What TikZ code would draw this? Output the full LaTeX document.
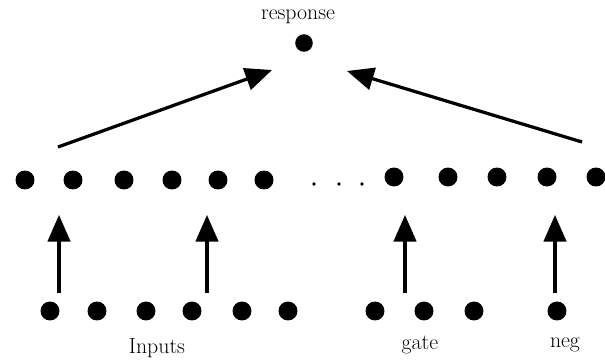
\documentclass[tikz,border=0pt]{standalone}
\usepackage{tikz}
\usetikzlibrary{arrows.meta}
\usetikzlibrary{positioning}

\begin{document}
\begin{tikzpicture}[x=0.025cm, y=-0.025cm]
\tikzset{UnitStyle/.style = {shape=circle, fill=black, inner sep=0pt, minimum size=13.5pt}}
\tikzset{DotStyle/.style = {shape=circle, fill=black, inner sep=0pt, minimum size=2.8pt}}
\tikzset{LabelStyle/.style = {font=\fontsize{15.5}{18}\selectfont}}
\tikzset{EdgeStyle/.style = {-{Triangle[width=16pt, length=19pt]}, line width=2.3pt}}
  \useasboundingbox (0,0) rectangle (605,363);
  % output unit
  \node[LabelStyle] (lr) at (298,17) {response};
  \node[UnitStyle, minimum size=12.5pt] (r) at (304,43) {};
  % hidden layer
  \node[UnitStyle] (h1) at (25,180) {};
  \node[UnitStyle] (h2) at (73,180) {};
  \node[UnitStyle] (h3) at (124,180) {};
  \node[UnitStyle] (h4) at (172,180) {};
  \node[UnitStyle] (h5) at (218,180) {};
  \node[UnitStyle] (h6) at (264,180) {};
  \node[DotStyle] (d1) at (314,184) {};
  \node[DotStyle] (d2) at (339,184) {};
  \node[DotStyle] (d3) at (362,184) {};
  \node[UnitStyle] (h7) at (394,177) {};
  \node[UnitStyle] (h8) at (448,177) {};
  \node[UnitStyle] (h9) at (497,177) {};
  \node[UnitStyle] (h10) at (547,177) {};
  \node[UnitStyle] (h11) at (596,177) {};
  % input layer
  \node[UnitStyle] (i1) at (50,311) {};
  \node[UnitStyle] (i2) at (97,311) {};
  \node[UnitStyle] (i3) at (146,311) {};
  \node[UnitStyle] (i4) at (192,311) {};
  \node[UnitStyle] (i5) at (242,311) {};
  \node[UnitStyle] (i6) at (288,311) {};
  \node[UnitStyle] (i7) at (375,311) {};
  \node[UnitStyle] (i8) at (424,311) {};
  \node[UnitStyle] (i9) at (474,311) {};
  \node[UnitStyle] (i10) at (557,311) {};
  \node[LabelStyle] (li) at (157,348) {Inputs};
  \node[LabelStyle] (lg) at (420,345) {gate};
  \node[LabelStyle] (ln) at (565,345) {neg};
  % arrow ends
  \coordinate (u1) at (59,293);  \coordinate (v1) at (59,215);
  \coordinate (u2) at (207,293); \coordinate (v2) at (207,215);
  \coordinate (u3) at (405,293); \coordinate (v3) at (405,215);
  \coordinate (u4) at (555,293); \coordinate (v4) at (555,215);
  \coordinate (s1) at (58,147);  \coordinate (t1) at (272,70);
  \coordinate (s2) at (582,142); \coordinate (t2) at (347,71);
  \draw[EdgeStyle] (u1) -- (v1);
  \draw[EdgeStyle] (u2) -- (v2);
  \draw[EdgeStyle] (u3) -- (v3);
  \draw[EdgeStyle] (u4) -- (v4);
  \draw[EdgeStyle] (s1) -- (t1);
  \draw[EdgeStyle] (s2) -- (t2);
\end{tikzpicture}
\end{document}
